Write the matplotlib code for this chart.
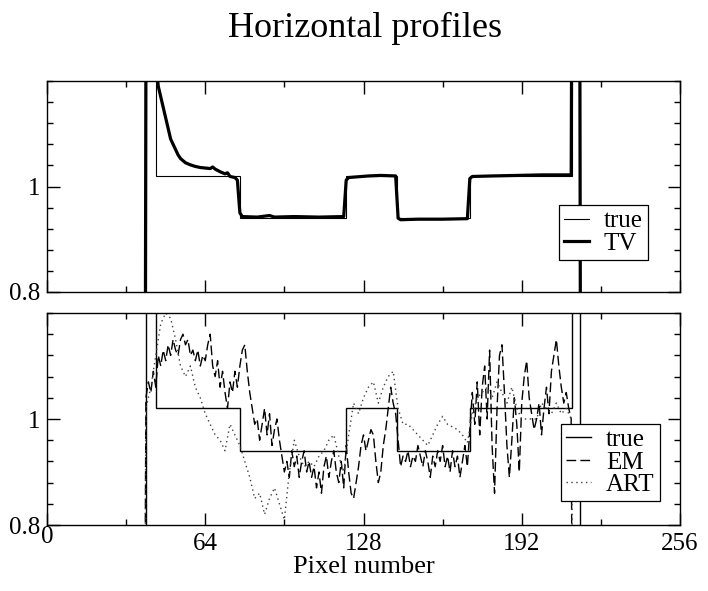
import matplotlib
matplotlib.use("Agg")
import matplotlib.pyplot as plt
import matplotlib.transforms as mtransforms
from matplotlib.ticker import FixedLocator, MultipleLocator

plt.rcParams['font.family'] = ['Liberation Serif', 'DejaVu Serif']

# ---------------- data ----------------
# true profile (piecewise constant)
true_edges = [0, 40, 44, 78, 121, 141.5, 171, 212.5, 215.5, 256]
true_levels = [0, 2.5, 1.02, 0.94, 1.02, 0.94, 1.02, 2.5, 0]

# TV reconstruction (top panel)
tv_x = [0, 39.5, 40.5, 43, 44, 45, 46, 47, 48, 49, 50, 51, 52, 53, 54, 56, 58, 60, 62,
        64, 66, 67, 68, 70, 72, 73, 74, 76, 77, 78, 79, 85, 90, 92, 100, 110, 120,
        121, 122, 130, 135, 141, 142, 143, 150, 160, 170, 171, 172, 180, 190, 200,
        212, 213, 215, 216, 256]
tv_y = [0, 0, 2.5, 2.5, 1.24, 1.19, 1.17, 1.15, 1.13, 1.11, 1.09, 1.08, 1.07, 1.06,
        1.053, 1.045, 1.041, 1.038, 1.036, 1.035, 1.034, 1.037, 1.033, 1.028, 1.024,
        1.026, 1.019, 1.017, 1.012, 0.95, 0.943, 0.942, 0.945, 0.942, 0.943, 0.942,
        0.943, 1.012, 1.017, 1.02, 1.021, 1.02, 0.94, 0.937, 0.938, 0.938, 0.939,
        1.015, 1.019, 1.02, 1.021, 1.022, 1.022, 2.5, 2.5, 0, 0]

# EM reconstruction (bottom panel), pixels 39..213
em_x = list(range(39, 214))
em_y = [0.0, 1.04,
        1.07, 1.05, 1.09, 1.06, 1.12, 1.10, 1.13, 1.11, 1.14, 1.12,
        1.15, 1.13, 1.12, 1.15, 1.16, 1.14, 1.15, 1.12, 1.13, 1.11,
        1.13, 1.10, 1.12, 1.11, 1.14, 1.16, 1.10, 1.08, 1.11, 1.06,
        1.09, 1.05, 1.02, 1.07, 1.05, 1.09, 1.06, 1.10, 1.13, 1.14,
        1.09, 1.05, 1.02, 0.99, 1.00, 0.96, 0.99, 1.02, 0.97, 1.01,
        0.95, 0.98, 1.00, 0.96, 0.93, 0.90, 0.92, 0.89, 0.94, 0.91,
        0.93, 0.89, 0.92, 0.94, 0.90, 0.92, 0.89, 0.91, 0.87, 0.90,
        0.86, 0.91, 0.93, 0.89, 0.92, 0.94, 0.90, 0.88, 0.92, 0.87,
        0.95, 0.90, 0.86, 0.85, 0.88, 0.91, 0.95, 0.97, 0.94, 0.96,
        0.98, 0.97, 0.92, 0.88, 0.90, 0.95, 0.98, 1.02, 1.06, 1.03,
        1.01, 0.96, 0.91, 0.93, 0.92, 0.94, 0.91, 0.93, 0.92, 0.95,
        0.93, 0.91, 0.94, 0.92, 0.89, 0.93, 0.91, 0.94, 0.92, 0.95,
        0.91, 0.93, 0.90, 0.94, 0.91, 0.93, 0.89, 0.92, 0.95, 0.91,
        0.98, 1.05, 0.99, 1.07, 0.97, 1.06, 1.10, 1.00, 1.13, 0.95,
        0.86, 1.02, 1.12, 1.14, 1.05, 0.95, 0.89, 0.96, 1.04, 0.99,
        0.90, 1.03, 1.08, 1.11, 1.04, 1.01, 0.98, 1.00, 1.03, 0.97,
        1.02, 1.06, 1.01, 1.09, 1.12, 1.15, 1.10, 1.06, 1.03, 1.05,
        1.02, 1.00, 0.0]

# ART reconstruction (bottom panel)
art_x = [39] + list(range(40, 215, 2))
art_y = [0.0, 1.02,
         1.06, 1.12, 1.18, 1.20, 1.19, 1.15, 1.10, 1.08, 1.10, 1.06,
         1.04, 1.01, 0.99, 0.97, 0.96, 0.94, 0.99, 0.97, 0.95, 0.92,
         0.89, 0.85, 0.86, 0.82, 0.85, 0.87, 0.84, 0.81, 0.90, 0.96,
         0.93, 0.91, 0.92, 0.91, 0.93, 0.94, 0.96, 0.97, 0.93, 0.90,
         0.97, 1.03, 1.01, 1.04, 1.06, 1.07, 1.03, 1.06, 1.08, 1.09,
         1.02, 0.99, 0.99, 0.98, 0.97, 0.96, 0.95, 0.97, 0.99, 1.005,
         0.99, 0.985, 0.98, 0.97, 0.955, 1.01, 1.04, 1.05, 1.06, 1.04,
         1.07, 1.05, 1.03, 1.06, 1.02, 1.00, 1.00, 1.00, 1.00, 1.03,
         1.02, 1.01, 1.03, 1.01, 1.02, 1.00, 0.0]

x_major = [0, 64, 128, 192, 256]
x_labels = ['', '64', '128', '192', '256']
y_major = [0.8, 1.0]
y_labels = ['0.8', '1']

# ---------------- figure ----------------
fig = plt.figure(figsize=(7.08, 5.91), dpi=100)
W, H = 708, 591
def rect(x0, y0, x1, y1):
    return [x0 / W, 1 - y1 / H, (x1 - x0) / W, (y1 - y0) / H]

ax1 = fig.add_axes(rect(47, 81, 680, 292))
ax2 = fig.add_axes(rect(47, 313, 680, 525))

TICK_FS = 18
for ax in (ax1, ax2):
    ax.set_xlim(0, 256)
    ax.set_ylim(0.8, 1.2)
    ax.xaxis.set_major_locator(FixedLocator(x_major))
    ax.xaxis.set_minor_locator(MultipleLocator(32))
    ax.yaxis.set_major_locator(FixedLocator(y_major))
    ax.yaxis.set_minor_locator(MultipleLocator(0.04))
    ax.tick_params(which='both', direction='in', top=True, right=True,
                   width=1.0, labelsize=TICK_FS, color='black')
    ax.tick_params(which='major', length=9)
    ax.tick_params(which='minor', length=4.5)
    ax.tick_params(axis='y', pad=5)
    ax.tick_params(axis='x', pad=6)
    ax.set_yticklabels(y_labels)
    for s in ax.spines.values():
        s.set_linewidth(1.0)

ax1.set_xticklabels([])
ax2.set_xticklabels(x_labels)
# the "0" label sits slightly raised in the original
off = mtransforms.offset_copy(ax2.get_xaxis_transform(), fig=fig, x=0, y=-1, units='points')
ax2.text(0, 0, '0', transform=off, ha='center', va='top', fontsize=TICK_FS)

leg_kw = dict(loc='lower right', borderaxespad=0, fontsize=18, frameon=True,
              fancybox=False, framealpha=1, edgecolor='black', handlelength=1.0,
              handletextpad=0.6, labelspacing=0.0, borderpad=0.2)

# top panel
ax1.stairs(true_levels, true_edges, baseline=None, color='black', lw=0.8, label='true')
ax1.plot(tv_x, tv_y, color='black', lw=2.3, label='TV')
leg1 = ax1.legend(bbox_to_anchor=(0.949, 0.152), **leg_kw)
leg1.get_frame().set_linewidth(0.9)

# bottom panel
ax2.stairs(true_levels, true_edges, baseline=None, color='black', lw=1.0, label='true')
ax2.plot(em_x, em_y, color='black', lw=1.0, linestyle=(0, (7, 3)), label='EM')
ax2.plot(art_x, art_y, color='0.25', lw=1.0, linestyle=(0, (1, 2.5)), label='ART')
leg2 = ax2.legend(bbox_to_anchor=(0.968, 0.113), **leg_kw)
leg2.get_frame().set_linewidth(0.9)

fig.text(0.5155, 1 - 28 / H, 'Horizontal profiles', ha='center', va='center', fontsize=26)
fig.text(363.5 / W, 1 - 567 / H, 'Pixel number', ha='center', va='center', fontsize=19)

fig.savefig('out.png', dpi=100)
